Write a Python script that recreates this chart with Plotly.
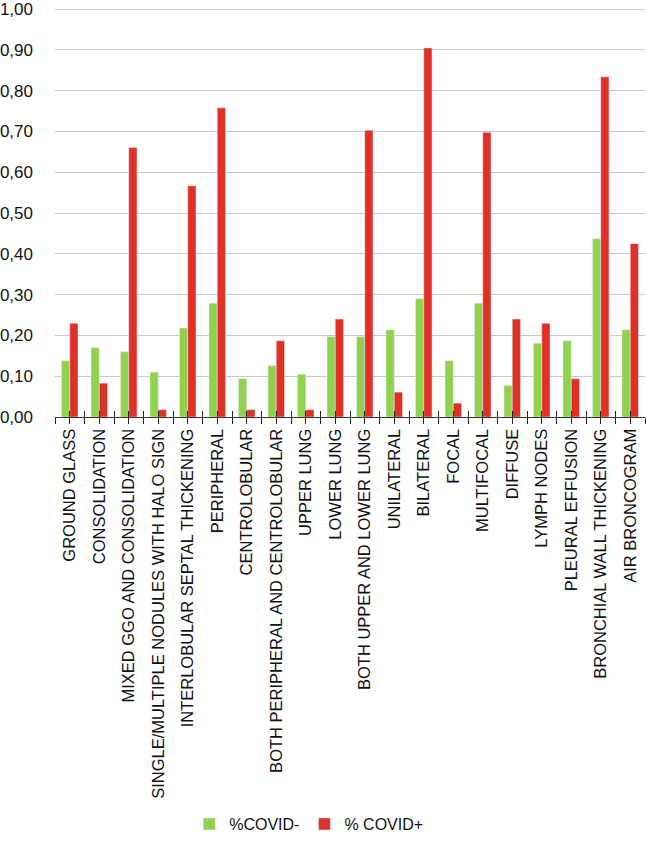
import plotly.graph_objects as go

categories = [
    "GROUND GLASS", "CONSOLIDATION", "MIXED GGO AND CONSOLIDATION",
    "SINGLE/MULTIPLE NODULES WITH HALO SIGN", "INTERLOBULAR SEPTAL THICKENING",
    "PERIPHERAL", "CENTROLOBULAR", "BOTH PERIPHERAL AND CENTROLOBULAR",
    "UPPER LUNG", "LOWER LUNG", "BOTH UPPER AND LOWER LUNG", "UNILATERAL",
    "BILATERAL", "FOCAL", "MULTIFOCAL", "DIFFUSE", "LYMPH NODES",
    "PLEURAL EFFUSION", "BRONCHIAL WALL THICKENING", "AIR BRONCOGRAM",
]
covid_neg = [0.138, 0.170, 0.160, 0.110, 0.218, 0.279, 0.094, 0.126, 0.105, 0.197,
             0.197, 0.214, 0.290, 0.138, 0.279, 0.077, 0.181, 0.187, 0.437, 0.214]
covid_pos = [0.230, 0.083, 0.661, 0.018, 0.567, 0.758, 0.018, 0.187, 0.018, 0.240,
             0.703, 0.061, 0.905, 0.034, 0.698, 0.240, 0.230, 0.094, 0.834, 0.425]
series_names = ["%COVID-", "% COVID+"]
y_ticks = [0.0, 0.1, 0.2, 0.3, 0.4, 0.5, 0.6, 0.7, 0.8, 0.9, 1.0]

GREEN = "#92D050"
RED = "#E03127"
FONT = "Liberation Sans"
n = len(categories)

fig = go.Figure()
fig.add_trace(go.Bar(x=categories, y=covid_neg, name=series_names[0], marker_color=GREEN))
fig.add_trace(go.Bar(x=categories, y=covid_pos, name=series_names[1], marker_color=RED))
# helper traces for crossing tick marks
fig.add_trace(go.Scatter(x=[], y=[], xaxis="x2", showlegend=False, hoverinfo="skip"))
fig.add_trace(go.Scatter(x=[], y=[], xaxis="x3", showlegend=False, hoverinfo="skip"))

tick_axis = dict(type="linear", range=[-0.5, n - 0.5], overlaying="x", anchor="y",
                 side="bottom", tick0=-0.5, dtick=0.5, showticklabels=False,
                 showgrid=False, zeroline=False, showline=False,
                 tickcolor="#222222", tickwidth=1.3, ticklen=6)

fig.update_layout(
    width=646, height=841,
    margin=dict(l=53, r=1, t=0, b=424),
    paper_bgcolor="white", plot_bgcolor="white",
    separators=",.",
    barmode="group", bargap=0.44, bargroupgap=0,
    font=dict(family=FONT, size=16, color="#222222"),
    xaxis=dict(type="category", categoryorder="array", categoryarray=categories,
               range=[-0.5, n - 0.5], ticklabelstandoff=4,
               tickangle=-90, ticks="", tickfont=dict(size=16.5, family=FONT, color="#111111"),
               showline=True, linecolor="#333333", linewidth=1.3, showgrid=False),
    xaxis2=dict(tick_axis, ticks="inside"),
    xaxis3=dict(tick_axis, ticks="outside"),
    yaxis=dict(range=[0, 1.02], tickvals=y_ticks, tickformat=".2f",
               ticklabeloverflow="allow",
               showgrid=True, gridcolor="#C8C8C8", gridwidth=1,
               zeroline=False, showline=False, ticks="", ticklabelstandoff=21,
               tickfont=dict(size=17, family=FONT, color="#111111")),
    legend=dict(orientation="h", x=0.43, xanchor="center", y=0.0, yref="container",
                yanchor="bottom", font=dict(size=16, family=FONT, color="#111111"),
                itemwidth=30, traceorder="normal"),
    showlegend=True,
)

fig.write_html("out.html", config={"displayModeBar": False},
               post_script="document.body.style.margin='0';document.body.style.overflow='hidden';")
